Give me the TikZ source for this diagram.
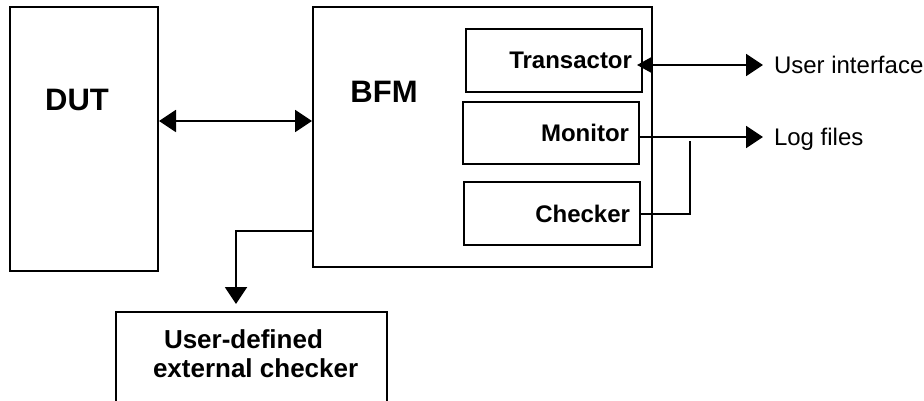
\documentclass[tikz,border=0pt]{standalone}
\usepackage{fontspec}
\setmainfont{Liberation Sans}
\usetikzlibrary{arrows.meta}

\begin{document}
\begin{tikzpicture}[x=1pt, y=-1pt, line width=2pt,
    box/.style={draw, rectangle, inner sep=0pt},
    unit/.style={box, minimum width=176pt, minimum height=62pt, text width=156pt, align=right,
                 font=\fontsize{24}{28}\selectfont\bfseries},
    title/.style={inner sep=0pt, font=\fontsize{31}{36}\selectfont\bfseries},
    outlbl/.style={anchor=west, inner xsep=10pt, inner ysep=0pt, text depth=0pt,
                   font=\fontsize{24}{28}\selectfont},
    arr/.style={-{Triangle[length=17pt,width=22pt]}},
    dblarr/.style={{Triangle[length=17pt,width=22pt]}-{Triangle[length=17pt,width=22pt]}}]
    \useasboundingbox (0,0) rectangle (924,401);
    \clip (0,0) rectangle (924,401);

    % DUT block
    \node[box, minimum width=148pt, minimum height=264pt] (dut) at (84,139) {};
    \node[title] (dutlbl) at (77,100) {DUT};

    % BFM block with its three units
    \node[box, minimum width=339pt, minimum height=260pt] (bfm) at (482.5,137) {};
    \node[title] (bfmlbl) at (384,92) {BFM};
    \node[unit, minimum height=63pt] (trans) at (554,60.5) {Transactor};
    \node[unit] (mon) at (551,133) {Monitor};
    \node[unit, minimum height=63pt] (chk) at (552,213.5) {Checker};

    % External checker (runs off the bottom)
    \node[box, minimum width=271pt, minimum height=110pt] (ext) at (251.5,367) {};
    \node[anchor=north west, inner sep=0pt, align=left, font=\fontsize{26}{28.5}\selectfont\bfseries]
        (extlbl) at (152,329) {\hspace*{11pt}User-defined\\external checker};

    % Outputs
    \node[outlbl] (ui) at (763,65) {User interface};
    \node[outlbl] (log) at (763,137) {Log files};
    \coordinate (tap) at (690,141);

    % Connections
    \coordinate (link) at ([yshift=18pt]dut.east);
    \draw[dblarr] (link) -- (link -| bfm.west);
    \draw[{Triangle[length=15pt,width=16pt]}-{Triangle[length=17pt,width=22pt]}]
        ([xshift=-6pt]ui.west -| trans.east) -- (ui.west);
    \draw[arr] (log.west -| mon.east) -- (log.west);
    \draw (chk.east) -| (tap);
    \draw[arr, shorten >=7pt] (bfm.west |- 0,231) -| ([xshift=-15.5pt]ext.north);
\end{tikzpicture}
\end{document}
